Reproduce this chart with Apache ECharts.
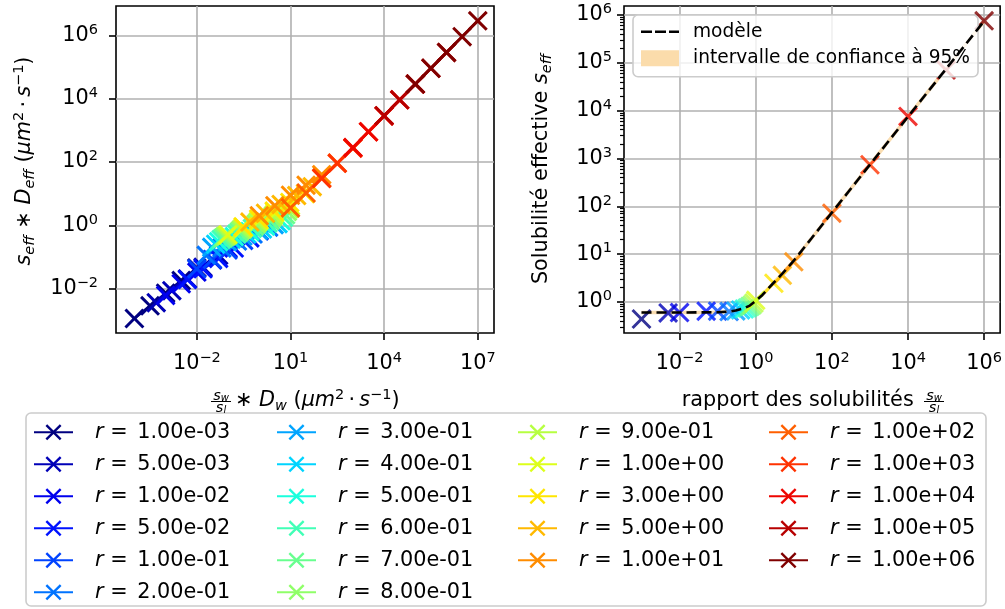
<!DOCTYPE html>
<html>
<head>
<meta charset="utf-8">
<script src="https://cdn.jsdelivr.net/npm/echarts@6/dist/echarts.min.js"></script>
<style>
  html, body { margin: 0; padding: 0; background: #fff; }
  #chart { width: 1005px; height: 609px; }
</style>
</head>
<body>
<div id="chart"></div>
<script>
// solubility ratios s_w / s_l (one series per ratio)
const ratios = [1e-3, 5e-3, 1e-2, 5e-2, 0.1, 0.2, 0.3, 0.4, 0.5, 0.6, 0.7, 0.8, 0.9, 1, 3, 5, 10, 100, 1e3, 1e4, 1e5, 1e6];
const ratioLabels = ['1.00e-03', '5.00e-03', '1.00e-02', '5.00e-02', '1.00e-01', '2.00e-01', '3.00e-01', '4.00e-01',
  '5.00e-01', '6.00e-01', '7.00e-01', '8.00e-01', '9.00e-01', '1.00e+00', '3.00e+00', '5.00e+00', '1.00e+01',
  '1.00e+02', '1.00e+03', '1.00e+04', '1.00e+05', '1.00e+06'];
// jet colormap, sampled for the 22 ratios
const colors = ['#000080', '#0000b7', '#0000ee', '#0012ff', '#0043ff', '#0073ff', '#00a4ff', '#00d4ff',
  '#1affdd', '#41ffb6', '#68ff8f', '#8fff68', '#b6ff41', '#ddff1a', '#ffe600', '#ffb900', '#ff8c00',
  '#ff5f00', '#ff3200', '#ee0500', '#b70000', '#800000'];

// left panel: D_w values, x = ratio * D_w
const diffW = [0.1, 0.316, 1, 3.16, 10];
// left panel: s_eff * D_eff, one array per D_w, one value per ratio
const yDw0_1 = [1.12e-3, 3.55e-3, 6.03e-3, 1.91e-2, 4.17e-2, 0.112, 0.2, 0.251, 0.302, 0.355, 0.398, 0.437,
  0.468, 0.501, 0.891, 1.26, 2.0, 3.55, 30.2, 288, 2950, 2.95e4];
const yDw0_316 = [2.82e-3, 8.51e-3, 1.41e-2, 4.17e-2, 8.32e-2, 0.191, 0.302, 0.363, 0.437, 0.525, 0.603, 0.692,
  0.759, 0.851, 1.58, 2.40, 4.17, 10.5, 91.2, 912, 9330, 9.33e4];
const yDw1 = [7.08e-3, 2.0e-2, 3.31e-2, 8.91e-2, 0.166, 0.316, 0.457, 0.525, 0.631, 0.794, 0.933, 1.096,
  1.26, 1.45, 2.82, 4.57, 8.91, 31.6, 275, 2880, 2.95e4, 2.95e5];
const yDw3_16 = [1.78e-2, 4.68e-2, 7.94e-2, 0.191, 0.331, 0.525, 0.692, 0.759, 0.933, 1.175, 1.41, 1.74,
  2.04, 2.45, 5.25, 8.71, 18.6, 93.3, 912, 9330, 9.33e4, 9.33e5];
const yDw10 = [4.47e-2, 0.112, 0.186, 0.398, 0.661, 0.871, 1.047, 1.12, 1.38, 1.78, 2.14, 2.75,
  3.31, 4.17, 10.0, 16.6, 39.8, 282, 2880, 2.95e4, 2.95e5, 2.95e6];
const yByDw = [yDw0_1, yDw0_316, yDw1, yDw3_16, yDw10];

// right panel: effective solubility per ratio
const sEff = [0.44, 0.59, 0.6, 0.64, 0.64, 0.63, 0.65, 0.68, 0.71, 0.75, 0.8, 0.86, 0.95, 1.08, 2.46, 3.6, 6.9,
  72, 740, 7600, 7.1e4, 7.6e5];
// model curve
const modelR = [1e-3, 1e-2, 0.1, 0.2, 0.3, 0.5, 0.7, 1, 1.5, 2, 3, 5, 10, 30, 100, 1e3, 1e4, 1e5, 1e6];
const modelS = [0.6, 0.6, 0.61, 0.63, 0.66, 0.74, 0.84, 1.05, 1.4, 1.8, 2.55, 3.9, 7.3, 22, 74, 745, 7500, 75000, 750000];

// tick values
const leftXTicks = [1e-2, 1e1, 1e4, 1e7];
const leftYTicks = [1e-2, 1, 1e2, 1e4, 1e6];
const rightXTicks = [1e-2, 1, 1e2, 1e4, 1e6];
const rightYTicks = [1, 1e1, 1e2, 1e3, 1e4, 1e5, 1e6];

const F = 'DejaVu Sans';
const FS = 20.8;
const X_PATH = 'path://M0,2.1L2.1,0L10,7.9L17.9,0L20,2.1L12.1,10L20,17.9L17.9,20L10,12.1L2.1,20L0,17.9L7.9,10Z';

const rich = {
  n: { fontFamily: F, fontSize: FS, color: '#000', lineHeight: 26 },
  i: { fontFamily: F, fontSize: FS, fontStyle: 'italic', color: '#000', lineHeight: 26 },
  sub: { fontFamily: F, fontSize: 14.5, fontStyle: 'italic', color: '#000', lineHeight: 14, verticalAlign: 'bottom' },
  sup: { fontFamily: F, fontSize: 14.5, color: '#000', lineHeight: 14, verticalAlign: 'top' }
};

function powLabel(v) {
  const e = Math.round(Math.log10(v));
  return '10{sup|' + (e < 0 ? '\u2212' + (-e) : e) + '}';
}

// minor ticks for the right y axis (2..9 x 10^n)
const minorY = [];
for (let e = -1; e <= 6; e++) {
  for (let m = 2; m <= 9; m++) {
    const v = m * Math.pow(10, e);
    if (v > 0.224 && v < 1.55e6) minorY.push(v);
  }
}

function logAxis(grid, min, max, ticks, pos, margin) {
  return {
    type: 'log', gridIndex: grid, min: min, max: max, position: pos,
    axisLine: { show: false },
    axisTick: { show: true, length: 7, lineStyle: { color: '#000', width: 1.6 }, customValues: ticks },
    axisLabel: {
      show: true, customValues: ticks, formatter: powLabel, margin: margin,
      fontFamily: F, fontSize: FS, color: '#000', lineHeight: 26, rich: rich
    },
    splitLine: { show: true, lineStyle: { color: '#b0b0b0', width: 1.6 } }
  };
}

const series = [];
// left panel lines with x markers
ratios.forEach((r, i) => {
  series.push({
    type: 'line', name: ratioLabels[i], xAxisIndex: 0, yAxisIndex: 0,
    data: diffW.map((d, k) => [r * d, yByDw[k][i]]),
    symbol: X_PATH, symbolSize: 20, showSymbol: true,
    lineStyle: { color: colors[i], width: 2.5 },
    itemStyle: { color: colors[i] },
    emphasis: { disabled: true }
  });
});
// confidence band under the points
series.push({
  type: 'line', name: 'intervalle de confiance à 95%', xAxisIndex: 1, yAxisIndex: 1,
  data: modelR.map((r, i) => [r, modelS[i]]),
  symbol: 'none', lineStyle: { color: '#f9dcb0', width: 3.5 },
  itemStyle: { color: '#f9dcb0' }, z: 1
});
// right panel points
ratios.forEach((r, i) => {
  series.push({
    type: 'scatter', name: ratioLabels[i], xAxisIndex: 1, yAxisIndex: 1,
    data: [[r, sEff[i]]],
    symbol: X_PATH, symbolSize: 20,
    itemStyle: { color: colors[i] },
    emphasis: { disabled: true }, z: 2
  });
});
series.push({
  type: 'line', name: 'modèle', xAxisIndex: 1, yAxisIndex: 1,
  data: modelR.map((r, i) => [r, modelS[i]]),
  symbol: 'none', lineStyle: { color: '#000', width: 2.6, type: [10, 5] },
  itemStyle: { color: '#000' }, z: 5
});

// bottom legend, four columns
const colStarts = [0, 6, 12, 17, 22];
const colLefts = [33, 276, 517, 768];
const legends = colLefts.map((left, c) => ({
  orient: 'vertical', left: left, top: 421.7, padding: 0,
  itemWidth: 39, itemHeight: 20, itemGap: 11, selectedMode: false,
  data: ratioLabels.slice(colStarts[c], colStarts[c + 1]),
  formatter: n => '{r|r}{n| = }{v|' + n + '}',
  textStyle: {
    fontFamily: F, fontSize: FS, color: '#000', lineHeight: 20,
    rich: {
      r: { fontFamily: F, fontSize: FS, fontStyle: 'italic', padding: [0, 0, 0, 17] },
      n: { fontFamily: F, fontSize: FS },
      v: { fontFamily: F, fontSize: FS, padding: [0, 0, 0, 3] }
    }
  }
}));
legends.push({
  orient: 'vertical', left: 633, top: 15, padding: [6.7, 8, 8.4, 8],
  itemWidth: 38, itemHeight: 16, itemGap: 6.6, selectedMode: false,
  backgroundColor: 'rgba(255,255,255,0.8)', borderColor: '#cccccc', borderWidth: 1.6, borderRadius: 5,
  data: [
    { name: 'modèle', icon: 'path://M0,0L11,0L11,2.6L0,2.6ZM14,0L25,0L25,2.6L14,2.6ZM28,0L38,0L38,2.6L28,2.6Z', itemStyle: { color: '#000' } },
    { name: 'intervalle de confiance à 95%', icon: 'rect', itemStyle: { color: '#fbdcab' } }
  ],
  formatter: n => '{t|' + n + '}',
  textStyle: {
    fontFamily: F, fontSize: 18.6, color: '#000', lineHeight: 20,
    rich: { t: { fontFamily: F, fontSize: 18.6, padding: [0, 0, 0, 9] } }
  }
});

function fraction(cx, cy) {
  const fr = {
    i: { fontFamily: F, fontSize: 14.5, fontStyle: 'italic', color: '#000' },
    b: { fontFamily: F, fontSize: 10, fontStyle: 'italic', color: '#000', verticalAlign: 'bottom' }
  };
  return [
    { type: 'text', x: cx, y: cy - 5, style: { text: '{i|s}{b|w}', rich: fr, align: 'center', verticalAlign: 'middle' } },
    { type: 'line', shape: { x1: cx - 10, y1: cy + 0.5, x2: cx + 10, y2: cy + 0.5 }, style: { stroke: '#000', lineWidth: 1 } },
    { type: 'text', x: cx, y: cy + 7, style: { text: '{i|s}{b|l}', rich: fr, align: 'center', verticalAlign: 'middle' } }
  ];
}

const graphics = [
  { type: 'rect', shape: { x: 26, y: 413, width: 960, height: 193, r: 5 },
    style: { fill: '#fff', stroke: '#cccccc', lineWidth: 1.6 }, z: -1 },
  { type: 'text', x: 25, y: 161, rotation: Math.PI / 2,
    style: { text: '{i|s}{sub|eff}{n| \u2217 }{i|D}{sub|eff}{n| (}{i|\u03bcm}{sup|2}{n|\u2009\u00b7\u2009}{i|s}{sup|\u22121}{n|)}',
      rich: rich, align: 'center', verticalAlign: 'middle' } },
  { type: 'text', x: 542, y: 169, rotation: Math.PI / 2,
    style: { text: '{n|Solubilité effective }{i|s}{sub|eff}', rich: rich, align: 'center', verticalAlign: 'middle' } },
  { type: 'text', x: 235, y: 401,
    style: { text: '{n|\u2217 }{i|D}{sub|w}{n| (}{i|\u03bcm}{sup|2}{n|\u2009\u00b7\u2009}{i|s}{sup|\u22121}{n|)}',
      rich: rich, align: 'left', verticalAlign: 'middle' } },
  { type: 'text', x: 681.7, y: 401,
    style: { text: '{n|rapport des solubilités}', rich: rich, align: 'left', verticalAlign: 'middle' } }
].concat(fraction(221, 401), fraction(934, 401));

const chart = echarts.init(document.getElementById('chart'), null, { renderer: 'canvas' });
chart.setOption({
  animation: false,
  backgroundColor: '#fff',
  grid: [
    { left: 116, top: 6, width: 378, height: 327, show: true, borderColor: '#000', borderWidth: 1.6, backgroundColor: 'transparent' },
    { left: 624, top: 6, width: 379, height: 327, show: true, borderColor: '#000', borderWidth: 1.6, backgroundColor: 'transparent' }
  ],
  xAxis: [
    logAxis(0, 2.57e-5, 3.31e7, leftXTicks, 'bottom', 18),
    logAxis(1, 3.47e-4, 2.63e6, rightXTicks, 'bottom', 18)
  ],
  yAxis: [
    logAxis(0, 3.89e-4, 8.71e6, leftYTicks, 'left', 18),
    logAxis(1, 0.224, 1.55e6, rightYTicks, 'left', 12),
    {
      type: 'log', gridIndex: 1, min: 0.224, max: 1.55e6, position: 'left',
      axisLine: { show: false }, axisLabel: { show: false }, splitLine: { show: false },
      axisTick: { show: true, length: 4, lineStyle: { color: '#000', width: 1.2 }, customValues: minorY }
    }
  ],
  legend: legends,
  graphic: graphics,
  series: series
});
</script>
</body>
</html>
